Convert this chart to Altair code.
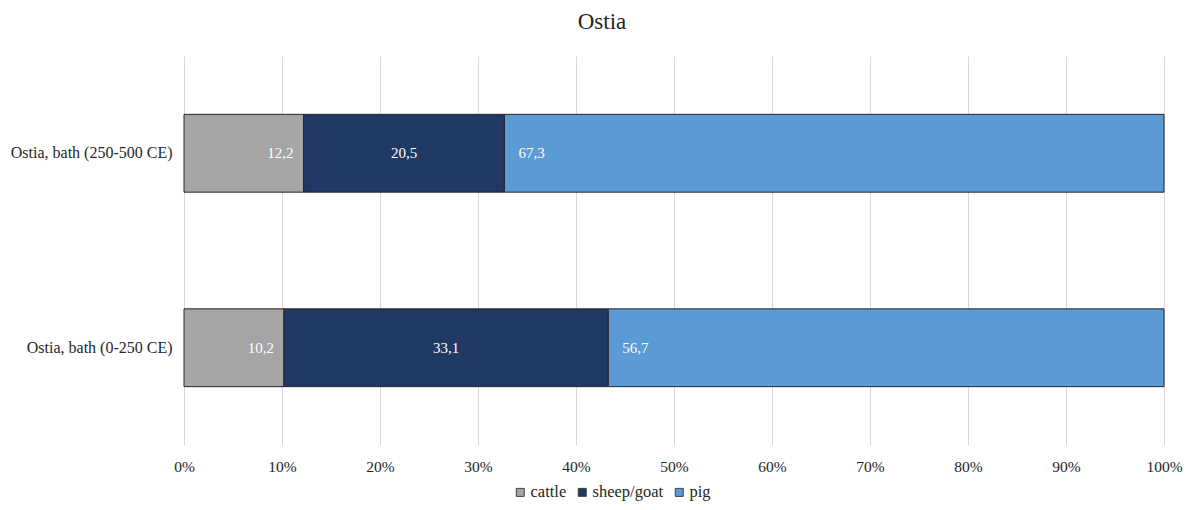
import altair as alt
import pandas as pd

sites = ["Ostia, bath (250-500 CE)", "Ostia, bath (0-250 CE)"]
species = ["cattle", "sheep/goat", "pig"]
cattle = [12.2, 10.2]
sheep_goat = [20.5, 33.1]
pig = [67.3, 56.7]
colors = ["#A5A5A5", "#203864", "#5B9BD5"]

rows = []
for i, s in enumerate(sites):
    vals = [cattle[i], sheep_goat[i], pig[i]]
    tot = sum(vals)
    start = 0.0
    for j, sp in enumerate(species):
        v = vals[j] / tot
        rows.append({"site": s, "species": sp, "order": j, "x0": start, "x1": start + v,
                     "xm": start + v / 2, "label": f"{vals[j]:.1f}".replace(".", ",")})
        start += v
df = pd.DataFrame(rows)

FONT = "Times New Roman, Liberation Serif, serif"

y_enc = alt.Y("site:N", sort=sites, title=None,
              scale=alt.Scale(paddingInner=0.6, paddingOuter=0.3),
              axis=alt.Axis(labelFont=FONT, labelFontSize=16, labelColor="#262626",
                            ticks=False, domain=False, labelPadding=12, grid=False))

bars = alt.Chart(df).mark_bar(stroke="#262626", strokeWidth=1).encode(
    x=alt.X("x0:Q", scale=alt.Scale(domain=[0, 1]), title=None,
            axis=alt.Axis(format=".0%", values=[i / 10 for i in range(11)],
                          labelFont=FONT, labelFontSize=15.5, labelColor="#262626",
                          labelFlush=False,
                          ticks=False, domain=False, labelPadding=14,
                          grid=True, gridColor="#D9D9D9", gridWidth=1)),
    x2="x1:Q",
    y=y_enc,
    color=alt.Color("species:N", sort=species,
                    scale=alt.Scale(domain=species, range=colors),
                    legend=alt.Legend(title=None, orient="none", legendX=328, legendY=428,
                                      direction="horizontal", symbolType="square",
                                      symbolSize=64, symbolStrokeColor="#404040",
                                      symbolStrokeWidth=1, labelFont=FONT,
                                      labelFontSize=16.5, labelColor="#262626",
                                      columnPadding=7, labelOffset=2)),
    order="order:Q",
)

txt_style = dict(font=FONT, fontSize=15, color="white", baseline="middle")

lab_cattle = alt.Chart(df[df.species == "cattle"]).mark_text(align="right", dx=-10, **txt_style).encode(
    x="x1:Q", y=alt.Y("site:N", sort=sites), text="label:N")
lab_sheep = alt.Chart(df[df.species == "sheep/goat"]).mark_text(align="center", **txt_style).encode(
    x="xm:Q", y=alt.Y("site:N", sort=sites), text="label:N")
lab_pig = alt.Chart(df[df.species == "pig"]).mark_text(align="left", dx=14, **txt_style).encode(
    x="x0:Q", y=alt.Y("site:N", sort=sites), text="label:N")

chart = alt.layer(bars, lab_cattle, lab_sheep, lab_pig).properties(
    width=980, height=389,
    title=alt.Title("Ostia", font=FONT, fontSize=23, fontWeight="normal", color="#262626",
                    anchor="middle", offset=22, dx=-72),
    autosize=alt.AutoSizeParams(type="none"),
    padding={"left": 176, "top": 48, "right": 20, "bottom": 57},
).configure_view(stroke=None)

chart.save("out.html", embed_options={"renderer": "svg", "actions": False})
